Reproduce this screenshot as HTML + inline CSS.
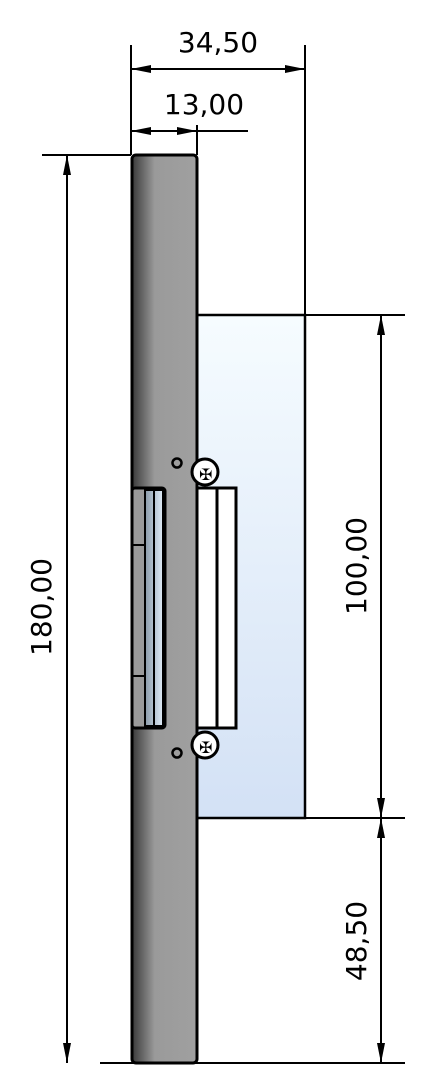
<!DOCTYPE html>
<html><head><meta charset="utf-8"><style>
html,body{margin:0;padding:0;background:#fff;width:443px;height:1085px;overflow:hidden}
text{font-family:"DejaVu Sans","Liberation Sans",sans-serif;font-size:28px;fill:#000}
</style></head><body>
<svg width="443" height="1085" viewBox="0 0 443 1085">
<defs>
<linearGradient id="bar" x1="0" x2="1" y1="0" y2="0">
<stop offset="0" stop-color="#3a3a3a"/><stop offset="0.35" stop-color="#9a9a9a"/><stop offset="1" stop-color="#a0a0a0"/></linearGradient>
<linearGradient id="box" x1="0" x2="0" y1="0" y2="1">
<stop offset="0" stop-color="#f6fcff"/><stop offset="1" stop-color="#d3e1f5"/></linearGradient>
<linearGradient id="tab" x1="0" x2="1"><stop offset="0" stop-color="#8a9aa8"/><stop offset="1" stop-color="#e0ecf8"/></linearGradient>
<marker id="ah" viewBox="0 0 20 8" refX="20" refY="4" markerWidth="20" markerHeight="8" markerUnits="userSpaceOnUse" orient="auto-start-reverse"><path d="M0,0 L20,4 L0,8z" fill="#000"/></marker>
</defs>
<g>
<rect x="197" y="315" width="108" height="503" fill="url(#box)" stroke="#000" stroke-width="2.5"/>
</g>
<g>
<rect x="132" y="155" width="65" height="908" rx="4" fill="url(#bar)" stroke="#000" stroke-width="3"/>
</g>
<g>
<rect x="132" y="488" width="33" height="240" rx="3" fill="#9a9a9a" stroke="#000" stroke-width="3"/>
<rect x="145" y="490" width="18" height="236" fill="url(#tab)" stroke="#000" stroke-width="2"/>
<line x1="154" y1="490" x2="154" y2="726" stroke="#000" stroke-width="2"/>
<line x1="132" y1="545" x2="145" y2="545" stroke="#000" stroke-width="2"/>
<line x1="132" y1="676" x2="145" y2="676" stroke="#000" stroke-width="2"/>
</g>
<g>
<rect x="197" y="488" width="39" height="240" fill="#fff" stroke="#000" stroke-width="3"/>
<line x1="217" y1="488" x2="217" y2="728" stroke="#000" stroke-width="3"/>
</g>
<g>
<circle cx="205" cy="472" r="13" fill="#fff" stroke="#000" stroke-width="3"/>
<text x="199" y="480" style="font-size:16px">✠</text>
<circle cx="205" cy="745" r="13" fill="#fff" stroke="#000" stroke-width="3"/>
<text x="199" y="753" style="font-size:16px">✠</text>
<circle cx="177" cy="463" r="4.5" fill="none" stroke="#000" stroke-width="2.5"/>
<circle cx="177" cy="753" r="4.5" fill="none" stroke="#000" stroke-width="2.5"/>
</g>
<g stroke="#000" stroke-width="2" fill="none">
<line x1="131" y1="45" x2="131" y2="155"/>
<line x1="305" y1="45" x2="305" y2="315"/>
<line x1="197" y1="125" x2="197" y2="155"/>
<line x1="131" y1="69" x2="305" y2="69" marker-start="url(#ah)" marker-end="url(#ah)"/>
<line x1="131" y1="131" x2="197" y2="131" marker-start="url(#ah)" marker-end="url(#ah)"/>
<line x1="197" y1="131" x2="248" y2="131"/>
<line x1="42" y1="155" x2="131" y2="155"/>
<line x1="100" y1="1063" x2="405" y2="1063"/>
<line x1="305" y1="315" x2="405" y2="315"/>
<line x1="305" y1="818" x2="405" y2="818"/>
<line x1="67" y1="155" x2="67" y2="1063" marker-start="url(#ah)" marker-end="url(#ah)"/>
<line x1="381" y1="315" x2="381" y2="818" marker-start="url(#ah)" marker-end="url(#ah)"/>
<line x1="381" y1="818" x2="381" y2="1063" marker-start="url(#ah)" marker-end="url(#ah)"/>
</g>
<text x="218" y="52" text-anchor="middle">34,50</text>
<text x="204" y="114" text-anchor="middle">13,00</text>
<text transform="translate(51,607) rotate(-90)" text-anchor="middle">180,00</text>
<text transform="translate(366,566) rotate(-90)" text-anchor="middle">100,00</text>
<text transform="translate(366,941) rotate(-90)" text-anchor="middle">48,50</text>
</svg>
</body></html>
